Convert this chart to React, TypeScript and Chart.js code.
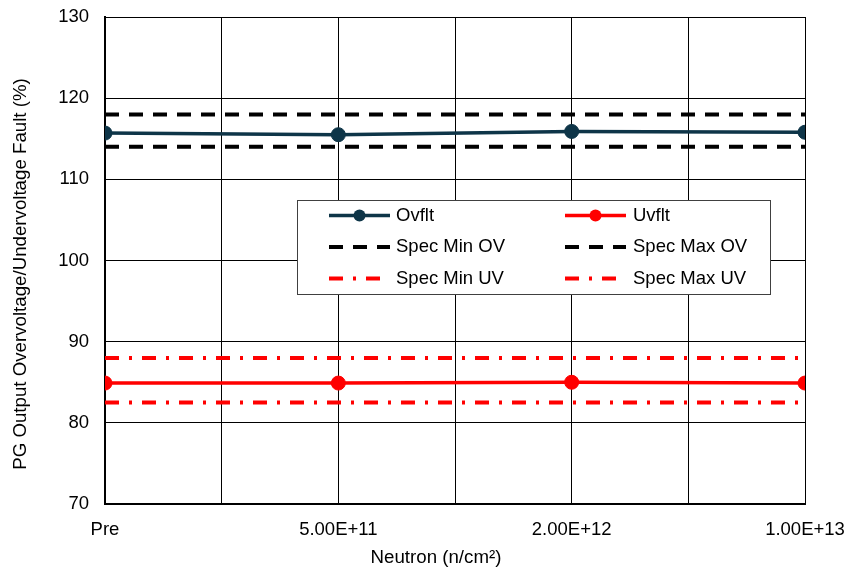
import { useEffect, useRef } from 'react';
import { Chart, registerables } from 'chart.js';

Chart.register(...registerables);

// Test points along the x axis
const categories = ['Pre', '5.00E+11', '2.00E+12', '1.00E+13'];

// Measured thresholds (%)
const ovflt = [115.7, 115.5, 115.9, 115.8];
const uvflt = [84.9, 84.9, 85.0, 84.9];

// Specification limits (%)
const specMinOV = 114;
const specMaxOV = 118;
const specMinUV = 82.5;
const specMaxUV = 88;

const yTicks = [70, 80, 90, 100, 110, 120, 130];

const xTitle = 'Neutron (n/cm²)';
const yTitle = 'PG Output Overvoltage/Undervoltage Fault (%)';

const FONT = "'Liberation Sans', Arial, Helvetica, sans-serif";
const OV_COLOR = '#0e3548';
const UV_COLOR = '#ff0000';

// every category sits on every second vertical grid line
const CATEGORY_STEP = 2;
const xMax = (categories.length - 1) * CATEGORY_STEP;

const seriesPoints = (values: number[]) =>
  values.map((y, i) => ({ x: i * CATEGORY_STEP, y }));
const specPoints = (y: number) => [
  { x: 0, y },
  { x: xMax, y },
];

const overlayPlugin = {
  id: 'overlay',
  afterDraw(chart: any) {
    const ctx: CanvasRenderingContext2D = chart.ctx;
    const a = chart.chartArea;

    // legend box inside the plot
    const bx = a.left + 192;
    const by = a.top + 183;
    const bw = 473;
    const bh = 94;
    ctx.save();
    ctx.fillStyle = '#ffffff';
    ctx.fillRect(bx, by, bw, bh);
    ctx.strokeStyle = '#404040';
    ctx.lineWidth = 1;
    ctx.strokeRect(bx + 0.5, by + 0.5, bw, bh);

    chart.data.datasets.forEach((ds: any, i: number) => {
      const col = i % 2;
      const row = Math.floor(i / 2);
      const sx = bx + (col ? 268 : 32);
      const ex = sx + 61;
      const tx = bx + (col ? 336 : 99);
      const cy = by + 15.5 + row * 31.5;
      ctx.strokeStyle = ds.borderColor;
      ctx.lineWidth = ds.borderWidth;
      ctx.setLineDash(ds.borderDash || []);
      ctx.beginPath();
      ctx.moveTo(sx, cy);
      ctx.lineTo(ex, cy);
      ctx.stroke();
      ctx.setLineDash([]);
      if (ds.pointRadius > 0) {
        ctx.fillStyle = ds.pointBackgroundColor;
        ctx.beginPath();
        ctx.arc((sx + ex) / 2, cy, 6, 0, Math.PI * 2);
        ctx.fill();
      }
      ctx.fillStyle = '#000';
      ctx.font = `18.5px ${FONT}`;
      ctx.textAlign = 'left';
      ctx.textBaseline = 'middle';
      ctx.fillText(ds.label, tx, cy);
    });

    // axis titles
    ctx.fillStyle = '#000';
    ctx.font = `18.7px ${FONT}`;
    ctx.textAlign = 'center';
    ctx.textBaseline = 'middle';
    ctx.fillText(xTitle, a.left + 331, a.bottom + 54);
    ctx.translate(21, a.top + 257);
    ctx.rotate(-Math.PI / 2);
    ctx.fillText(yTitle, 0, 0);
    ctx.restore();
  },
};

export default function App() {
  const ref = useRef<HTMLCanvasElement>(null);

  useEffect(() => {
    document.body.style.margin = '0';
    const chart = new Chart(ref.current as HTMLCanvasElement, {
      type: 'line',
      data: {
        datasets: [
          {
            label: 'Ovflt',
            data: seriesPoints(ovflt),
            borderColor: OV_COLOR,
            backgroundColor: OV_COLOR,
            pointBackgroundColor: OV_COLOR,
            pointBorderColor: OV_COLOR,
            borderWidth: 3.5,
            pointRadius: 7,
            pointBorderWidth: 1,
          },
          {
            label: 'Uvflt',
            data: seriesPoints(uvflt),
            borderColor: UV_COLOR,
            backgroundColor: UV_COLOR,
            pointBackgroundColor: UV_COLOR,
            pointBorderColor: UV_COLOR,
            borderWidth: 3.5,
            pointRadius: 7,
            pointBorderWidth: 1,
          },
          {
            label: 'Spec Min OV',
            data: specPoints(specMinOV),
            borderColor: '#000000',
            borderWidth: 4,
            borderDash: [14, 10],
            pointRadius: 0,
          },
          {
            label: 'Spec Max OV',
            data: specPoints(specMaxOV),
            borderColor: '#000000',
            borderWidth: 4,
            borderDash: [14, 10],
            pointRadius: 0,
          },
          {
            label: 'Spec Min UV',
            data: specPoints(specMinUV),
            borderColor: UV_COLOR,
            borderWidth: 4,
            borderDash: [14, 10, 3, 10],
            pointRadius: 0,
          },
          {
            label: 'Spec Max UV',
            data: specPoints(specMaxUV),
            borderColor: UV_COLOR,
            borderWidth: 4,
            borderDash: [14, 10, 3, 10],
            pointRadius: 0,
          },
        ],
      },
      options: {
        responsive: false,
        animation: false,
        devicePixelRatio: 1,
        layout: { padding: { top: 17, right: 43, bottom: 0, left: 0 } },
        plugins: {
          legend: { display: false },
          tooltip: { enabled: false },
        },
        scales: {
          x: {
            type: 'linear',
            min: 0,
            max: xMax,
            afterFit: (s: any) => {
              s.height = 68;
              s.paddingLeft = 0;
              s.paddingRight = 0;
            },
            ticks: {
              stepSize: 1,
              autoSkip: false,
              maxRotation: 0,
              padding: 15,
              color: '#000',
              font: { family: FONT, size: 18.5 },
              callback: (v: any) => {
                const n = Number(v);
                return n % CATEGORY_STEP === 0 ? categories[n / CATEGORY_STEP] : '';
              },
            },
            grid: { color: '#000', lineWidth: 1, drawTicks: false },
            border: { color: '#000', width: 2 },
          },
          y: {
            type: 'linear',
            min: yTicks[0],
            max: yTicks[yTicks.length - 1],
            afterFit: (s: any) => {
              s.width = 105;
              s.paddingTop = 0;
              s.paddingBottom = 0;
            },
            afterBuildTicks: (s: any) => {
              s.ticks = yTicks.map((value) => ({ value }));
            },
            ticks: {
              padding: 16,
              color: '#000',
              font: { family: FONT, size: 18.5 },
            },
            grid: { color: '#000', lineWidth: 1, drawTicks: false },
            border: { color: '#000', width: 2 },
          },
        },
      },
      plugins: [overlayPlugin],
    } as any);
    return () => chart.destroy();
  }, []);

  return (
    <div style={{ position: 'absolute', left: 0, top: 0, width: 848, height: 572, background: '#fff' }}>
      <canvas ref={ref} width={848} height={572} style={{ display: 'block' }} />
    </div>
  );
}
